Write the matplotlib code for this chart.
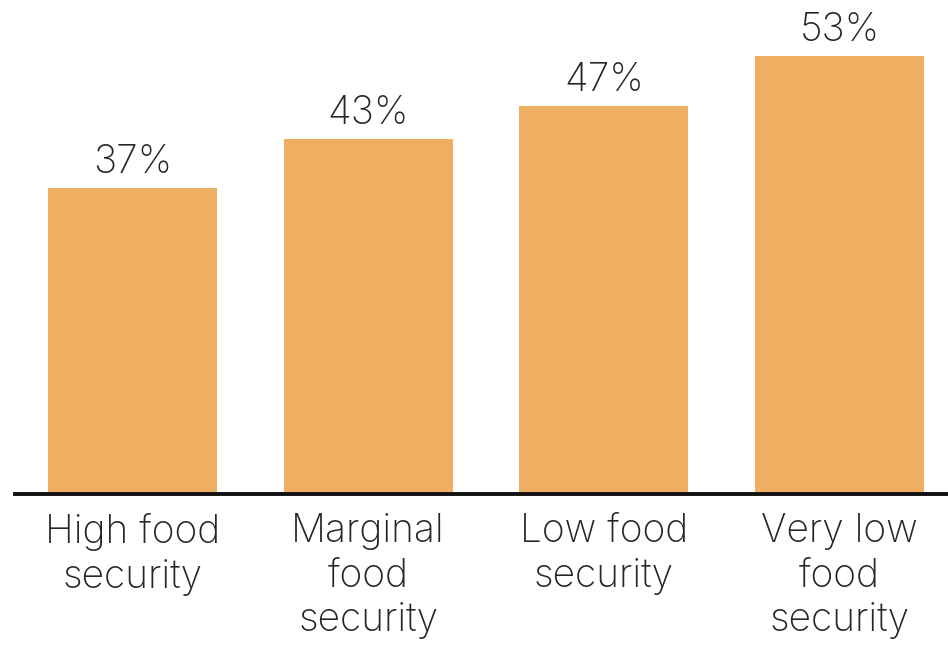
import matplotlib
matplotlib.use("Agg")
import matplotlib.pyplot as plt

categories = ["High food\nsecurity", "Marginal\nfood\nsecurity", "Low food\nsecurity", "Very low\nfood\nsecurity"]
values = [37, 43, 47, 53]
labels = ["37%", "43%", "47%", "53%"]

plt.rcParams['font.family'] = ['Inter', 'DejaVu Sans']
plt.rcParams['font.weight'] = 'light'

fig = plt.figure(figsize=(9.48, 6.46), dpi=100)
ax = fig.add_axes([15 / 948, 152 / 646, 933 / 948, 494 / 646])

x = range(len(values))
ax.bar(x, values, width=0.716, color='#F0AE62', zorder=1)

# value labels above each bar
for xi, v, lab in zip(x, values, labels):
    ax.text(xi, v + 1.8, lab, ha='center', va='baseline', fontsize=28, color='#262626')

ax.set_xlim(-0.498, 3.46)
ax.set_ylim(0, 59.8)
ax.set_xticks(list(x))
ax.set_xticklabels(categories, fontsize=28, color='#262626', linespacing=1.25)
ax.tick_params(axis='x', length=0, pad=14)
ax.set_yticks([])

for s in ['top', 'right', 'left']:
    ax.spines[s].set_visible(False)
ax.spines['bottom'].set_linewidth(2.8)
ax.spines['bottom'].set_color('#111111')

fig.savefig("out.png", dpi=100)
